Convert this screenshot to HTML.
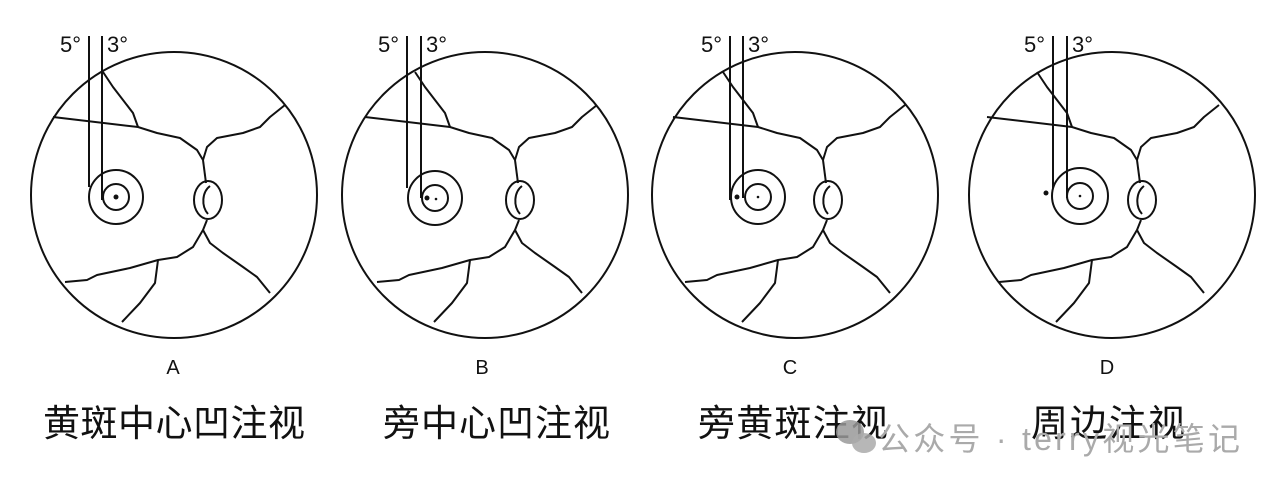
<!DOCTYPE html>
<html><head><meta charset="utf-8"><style>
html,body{margin:0;padding:0;background:#fff;}
svg{display:block;}
.l{fill:none;stroke:#111;stroke-width:2;stroke-linejoin:round;}
.d{font-family:"Liberation Sans",sans-serif;font-size:22px;fill:#111;}
.c{font-family:"Liberation Sans","Noto Sans CJK SC",sans-serif;font-size:37px;fill:#111;}
.w{font-family:"Liberation Sans","Noto Sans CJK SC",sans-serif;font-size:32px;fill:#aaa;}
</style></head><body>
<svg width="1280" height="490" viewBox="0 0 1280 490">
<defs>
<g id="ves">
<polyline class="l" points="203,160 197,150 180,138 157,133 138,127 53,117"/>
<polyline class="l" points="138,127 133,113 113,87 103,72"/>
<polyline class="l" points="203,160 207,147 217,138 243,133 260,127 270,117 285,105"/>
<polyline class="l" points="207,220 203,230 193,247 177,257 158,260 130,268 97,275 87,280 65,282"/>
<polyline class="l" points="158,260 155,283 140,303 122,322"/>
<polyline class="l" points="203,230 210,243 223,253 243,267 257,277 270,293"/>
<line class="l" x1="203" y1="160" x2="206" y2="183"/>
<ellipse class="l" cx="208" cy="200" rx="14" ry="19"/>
<path class="l" d="M210,186 C202,192 201,206 208,214"/>
</g>
</defs>
<circle class="l" cx="174" cy="195" r="143"/>
<use href="#ves"/>
<circle class="l" cx="116" cy="197" r="27"/><circle class="l" cx="116" cy="197" r="13"/>
<circle cx="116" cy="197" r="2.5" fill="#111"/>
<line class="l" x1="89" y1="36" x2="89" y2="187"/><line class="l" x1="102" y1="36" x2="102" y2="200"/>
<text class="d" x="60" y="52">5°</text><text class="d" x="107" y="52">3°</text>

<circle class="l" cx="485" cy="195" r="143"/>
<use href="#ves" transform="translate(312,0)"/>
<circle class="l" cx="435" cy="198" r="27"/><circle class="l" cx="435" cy="198" r="13"/>
<circle cx="427" cy="198" r="2.5" fill="#111"/><circle cx="436" cy="199" r="1.3" fill="#111"/>
<line class="l" x1="407" y1="36" x2="407" y2="188"/><line class="l" x1="421" y1="36" x2="421" y2="198"/>
<text class="d" x="378" y="52">5°</text><text class="d" x="426" y="52">3°</text>

<circle class="l" cx="795" cy="195" r="143"/>
<use href="#ves" transform="translate(620,0)"/>
<circle class="l" cx="758" cy="197" r="27"/><circle class="l" cx="758" cy="197" r="13"/>
<circle cx="737" cy="197" r="2.5" fill="#111"/><circle cx="758" cy="197" r="1.3" fill="#111"/>
<line class="l" x1="730" y1="36" x2="730" y2="200"/><line class="l" x1="743" y1="36" x2="743" y2="198"/>
<text class="d" x="701" y="52">5°</text><text class="d" x="748" y="52">3°</text>

<circle class="l" cx="1112" cy="195" r="143"/>
<use href="#ves" transform="translate(934,0)"/>
<circle class="l" cx="1080" cy="196" r="28"/><circle class="l" cx="1080" cy="196" r="13"/>
<circle cx="1046" cy="193" r="2.5" fill="#111"/><circle cx="1080" cy="196" r="1.3" fill="#111"/>
<line class="l" x1="1053" y1="36" x2="1053" y2="188"/><line class="l" x1="1067" y1="36" x2="1067" y2="198"/>
<text class="d" x="1024" y="52">5°</text><text class="d" x="1072" y="52">3°</text>

<text class="d" x="173" y="374" text-anchor="middle" style="font-size:20px">A</text>
<text class="d" x="482" y="374" text-anchor="middle" style="font-size:20px">B</text>
<text class="d" x="790" y="374" text-anchor="middle" style="font-size:20px">C</text>
<text class="d" x="1107" y="374" text-anchor="middle" style="font-size:20px">D</text>

<text class="c" x="43" y="436" textLength="262">黄斑中心凹注视</text>
<text class="c" x="383" y="436" textLength="227">旁中心凹注视</text>
<text class="c" x="698" y="436" textLength="190">旁黄斑注视</text>
<text class="c" x="1031" y="436" textLength="154">周边注视</text>

<ellipse cx="850" cy="432" rx="14" ry="12" fill="#999" opacity="0.85"/>
<ellipse cx="864" cy="443" rx="12" ry="10" fill="#aaa" opacity="0.85"/>
<text class="w" x="878" y="450" textLength="362">公众号 · terry视光笔记</text>
</svg>
</body></html>
